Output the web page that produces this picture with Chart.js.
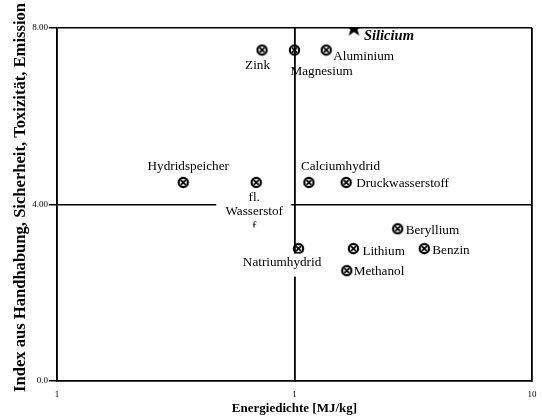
<!DOCTYPE html>
<html lang="de">
<head>
<meta charset="UTF-8">
<title>Energiedichte vs. Index</title>
<script src="https://cdn.jsdelivr.net/npm/chart.js"></script>
<style>
    body { margin: 0; background: #fff; }
    #wrap { width: 542px; height: 419px; }
</style>
</head>
<body>
<div id="wrap"><canvas id="chart" width="542" height="419"></canvas></div>
<script>
    // Data
    const names = ['Silicium', 'Zink', 'Magnesium', 'Aluminium', 'Hydridspeicher', 'fl. Wasserstoff',
        'Calciumhydrid', 'Druckwasserstoff', 'Beryllium', 'Lithium', 'Benzin', 'Natriumhydrid', 'Methanol'];
    const energy = [1.78, 0.73, 1.0, 1.36, 0.34, 0.69, 1.15, 1.65, 2.72, 1.77, 3.52, 1.04, 1.66];
    const index = [8.0, 7.5, 7.5, 7.5, 4.5, 4.5, 4.5, 4.5, 3.45, 3.0, 3.0, 3.0, 2.5];
    const yTicks = [0, 4, 8];
    const yTickLabels = ['0.0', '4.00', '8.00'];
    const xTicks = [0.1, 1, 10];
    const xTickLabels = ['1', '1', '10'];
    const yTitle = 'Index aus Handhabung, Sicherheit, Toxizität, Emission';

    // label placement relative to the marker (pixels)
    const labelPos = [
        { dx: 10, dy: 8, align: 'left' },
        { dx: -4.5, dy: 15, align: 'center' },
        { dx: -4, dy: 21, align: 'left' },
        { dx: 7, dy: 6, align: 'left' },
        { dx: 5, dy: -16, align: 'center' },
        { dx: -2, dy: 15, align: 'center', lines: ['fl.', 'Wasserstof', 'f'], box: [-40, 6, 75, 39] },
        { dx: -8, dy: -16, align: 'left' },
        { dx: 10, dy: 1, align: 'left' },
        { dx: 8, dy: 2, align: 'left' },
        { dx: 9, dy: 3, align: 'left' },
        { dx: 8, dy: 2, align: 'left' },
        { dx: -16.5, dy: 14, align: 'center', box: [-60, 5, 88, 23] },
        { dx: 7, dy: 1, align: 'left' }
    ];

    const serif = '"Liberation Serif", "DejaVu Serif", serif';

    function crossCircle() {
        const c = document.createElement('canvas');
        c.width = 13; c.height = 13;
        const g = c.getContext('2d');
        g.strokeStyle = '#000';
        g.lineWidth = 2.2;
        g.beginPath();
        g.arc(6.5, 6.5, 4.6, 0, Math.PI * 2);
        g.stroke();
        g.lineWidth = 1.7;
        g.beginPath();
        g.moveTo(4.1, 4.1); g.lineTo(8.9, 8.9);
        g.moveTo(8.9, 4.1); g.lineTo(4.1, 8.9);
        g.stroke();
        return c;
    }

    function filledStar() {
        const c = document.createElement('canvas');
        c.width = 19; c.height = 19;
        const g = c.getContext('2d');
        g.fillStyle = '#000';
        g.beginPath();
        for (let i = 0; i < 10; i++) {
            const r = i % 2 === 0 ? 9 : 3.6;
            const a = -Math.PI / 2 + i * Math.PI / 5;
            const px = 9.5 + r * Math.cos(a), py = 10 + r * Math.sin(a);
            if (i === 0) g.moveTo(px, py); else g.lineTo(px, py);
        }
        g.closePath();
        g.fill();
        return c;
    }

    const marker = crossCircle();
    const star = filledStar();

    const pointLabels = {
        id: 'pointLabels',
        afterDatasetsDraw(chart) {
            const ctx = chart.ctx;
            const meta = chart.getDatasetMeta(0);
            ctx.save();
            ctx.textBaseline = 'middle';
            meta.data.forEach((pt, i) => {
                const p = labelPos[i];
                const x = pt.x + p.dx, y = pt.y + p.dy;
                if (p.box) {
                    ctx.save();
                    ctx.fillStyle = '#fff';
                    ctx.fillRect(pt.x + p.box[0], pt.y + p.box[1], p.box[2], p.box[3]);
                    ctx.beginPath();
                    ctx.rect(pt.x + p.box[0], pt.y + p.box[1], p.box[2], p.box[3]);
                    ctx.clip();
                }
                ctx.fillStyle = '#000';
                ctx.textAlign = p.align;
                ctx.font = i === 0 ? 'italic bold 14.5px ' + serif : '13.2px ' + serif;
                const lines = p.lines || [names[i]];
                lines.forEach((t, k) => ctx.fillText(t, x, y + k * 14.5));
                if (p.box) ctx.restore();
            });
            ctx.restore();
        }
    };

    // y title is stretched in the original, draw it by hand
    const yTitlePlugin = {
        id: 'yTitle',
        afterDraw(chart) {
            const ctx = chart.ctx;
            ctx.save();
            ctx.font = 'bold 16px ' + serif;
            const w = ctx.measureText(yTitle).width;
            ctx.translate(25, 197.5);
            ctx.rotate(-Math.PI / 2);
            ctx.scale(389 / w, 1);
            ctx.fillStyle = '#000';
            ctx.textAlign = 'center';
            ctx.textBaseline = 'alphabetic';
            ctx.fillText(yTitle, 0, 0);
            ctx.restore();
        }
    };

    new Chart(document.getElementById('chart'), {
        type: 'scatter',
        data: {
            datasets: [{
                data: energy.map((e, i) => ({ x: e, y: index[i] })),
                pointStyle: names.map((n, i) => i === 0 ? star : marker),
                pointRadius: 6
            }]
        },
        options: {
            responsive: false,
            animation: false,
            events: [],
            layout: { padding: { left: 0, top: 28, right: 10, bottom: 0 } },
            plugins: { legend: { display: false }, tooltip: { enabled: false } },
            scales: {
                x: {
                    type: 'logarithmic',
                    min: 0.1,
                    max: 10,
                    afterBuildTicks: s => { s.ticks = xTicks.map(v => ({ value: v })); },
                    afterFit: s => { s.height = 38; s.paddingRight = 0; s.paddingLeft = 0; },
                    ticks: {
                        callback: (v, i) => xTickLabels[i],
                        font: { family: serif, size: 9 },
                        color: '#000',
                        padding: 8,
                        maxRotation: 0
                    },
                    grid: { color: '#000', lineWidth: 1.8, tickLength: 0 },
                    border: { color: '#000', width: 1.5 },
                    title: {
                        display: true,
                        text: 'Energiedichte [MJ/kg]',
                        font: { family: serif, size: 13, weight: 'bold' },
                        color: '#000',
                        padding: { top: 0, bottom: 3 }
                    }
                },
                y: {
                    min: 0,
                    max: 8,
                    afterBuildTicks: s => { s.ticks = yTicks.map(v => ({ value: v })); },
                    afterFit: s => { s.width = 57; },
                    ticks: {
                        callback: (v, i) => yTickLabels[i],
                        font: { family: serif, size: 9 },
                        color: '#000',
                        padding: 1
                    },
                    grid: { color: '#000', lineWidth: 1.5, tickLength: 8 },
                    border: { color: '#000', width: 1.5 },
                    title: { display: false }
                }
            }
        },
        plugins: [pointLabels, yTitlePlugin]
    });
</script>
</body>
</html>
